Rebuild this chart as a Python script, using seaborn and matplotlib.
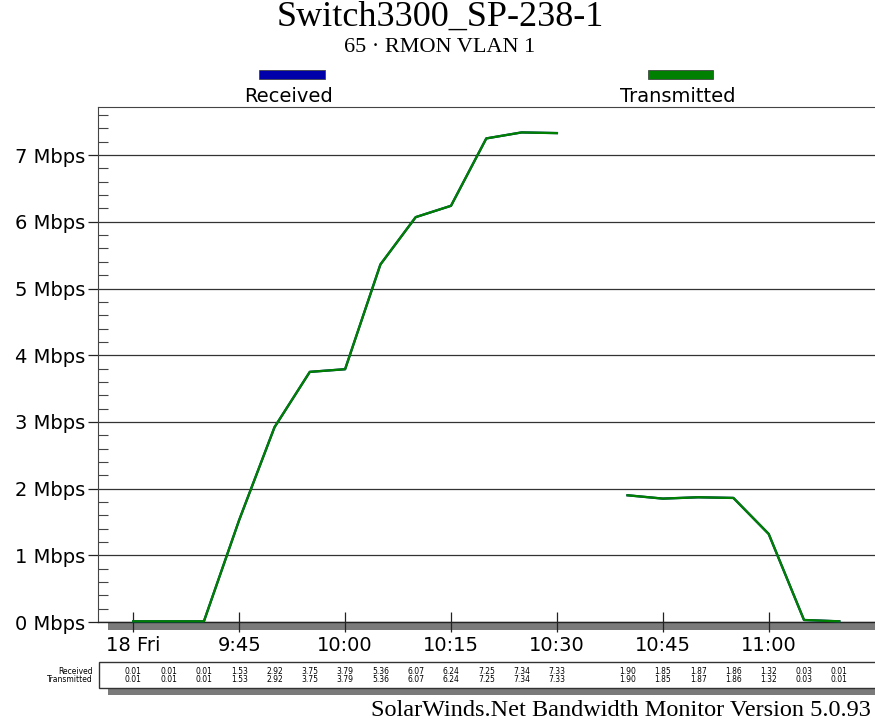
import matplotlib
matplotlib.use("Agg")
import matplotlib.pyplot as plt
from matplotlib.patches import Rectangle
from matplotlib.ticker import FixedLocator
import matplotlib.transforms as mtransforms
import seaborn as sns
import pandas as pd

# ---------------- data ----------------
title = "Switch3300_SP-238-1"
subtitle = "65 · RMON VLAN 1"
footer = "SolarWinds.Net Bandwidth Monitor Version 5.0.93"

times_a = ["9:30", "9:35", "9:40", "9:45", "9:50", "9:55", "10:00",
           "10:05", "10:10", "10:15", "10:20", "10:25", "10:30"]
received_a = [0.01, 0.01, 0.01, 1.53, 2.92, 3.75, 3.79, 5.36, 6.07, 6.24, 7.25, 7.34, 7.33]
transmitted_a = [0.01, 0.01, 0.01, 1.53, 2.92, 3.75, 3.79, 5.36, 6.07, 6.24, 7.25, 7.34, 7.33]

times_b = ["10:40", "10:45", "10:50", "10:55", "11:00", "11:05", "11:10"]
received_b = [1.90, 1.85, 1.87, 1.86, 1.32, 0.03, 0.01]
transmitted_b = [1.90, 1.85, 1.87, 1.86, 1.32, 0.03, 0.01]

xtick_times = ["9:30", "9:45", "10:00", "10:15", "10:30", "10:45", "11:00"]
xtick_labels = ["18 Fri", "9:45", "10:00", "10:15", "10:30", "10:45", "11:00"]
ytick_values = [0, 1, 2, 3, 4, 5, 6, 7]
ytick_labels = [f"{v} Mbps" for v in ytick_values]
series_names = ["Received", "Transmitted"]


def to_min(s):
    h, m = s.split(":")
    return int(h) * 60 + int(m)


df = pd.DataFrame({
    "time": [to_min(t) for t in times_a + times_b],
    "Received": received_a + received_b,
    "Transmitted": transmitted_a + transmitted_b,
    "segment": ["a"] * len(times_a) + ["b"] * len(times_b),
})

# ---------------- figure ----------------
W, H = 875, 723
fig = plt.figure(figsize=(W / 100, H / 100), dpi=100)
fig.patch.set_facecolor("white")

def fx(px):
    return px / W

def fy(py):
    return 1 - py / H

ax_left, ax_right, ax_top, ax_bot = 98, 875, 107, 622
ax = fig.add_axes([fx(ax_left), fy(ax_bot), fx(ax_right - ax_left), fy(ax_top) - fy(ax_bot)])

blue = "#0000AA"
green = "#008000"

sns.lineplot(data=df, x="time", y="Received", units="segment", estimator=None,
             color=blue, linewidth=1.6, ax=ax, legend=False)
sns.lineplot(data=df, x="time", y="Transmitted", units="segment", estimator=None,
             color=green, linewidth=1.7, ax=ax, legend=False)
for ln in ax.lines:
    ln.set_clip_on(False)
    ln.set_zorder(5)

ax.set_xlim(to_min("9:25"), to_min("9:25") + (ax_right - ax_left) / 35.3 * 5)
ax.set_ylim(0, (ax_bot - ax_top) / 66.7)
ax.set_xlabel("")
ax.set_ylabel("")

ax.set_xticks([to_min(t) for t in xtick_times])
ax.set_xticklabels(xtick_labels, fontsize=14, family="DejaVu Sans")
ax.set_yticks(ytick_values)
ax.set_yticklabels(ytick_labels, fontsize=14, family="DejaVu Sans")
minor = [v / 5 for v in range(0, 39) if v % 5 != 0]
ax.yaxis.set_minor_locator(FixedLocator(minor))

ax.tick_params(axis="x", which="major", direction="inout", length=14, width=0.9,
               color="#222222", pad=3)
ax.tick_params(axis="y", which="major", direction="out", length=7, width=0.9,
               color="#222222", pad=2)
ax.tick_params(axis="y", which="minor", direction="in", length=7, width=0.8,
               color="#444444")

ax.grid(axis="y", which="major", color="#333333", linewidth=0.9)
ax.set_axisbelow(True)
ax.spines["right"].set_visible(False)
ax.spines["top"].set_linewidth(0.8)
ax.spines["top"].set_color("#444444")
ax.spines["left"].set_color("#444444")
ax.spines["bottom"].set_color("#222222")
ax.spines["bottom"].set_linewidth(1.0)

# shadow below the x axis
fig.add_artist(Rectangle((fx(108), fy(630)), 1 - fx(108), fy(623) - fy(630),
                         transform=fig.transFigure, facecolor="#7a7a7a",
                         edgecolor="none", zorder=-1))

# ---------------- titles ----------------
fig.text(fx(440), fy(17), title, ha="center", va="center", fontsize=26,
         family="Liberation Serif")
fig.text(fx(440), fy(47), subtitle, ha="center", va="center", fontsize=16,
         family="Liberation Serif")
fig.text(fx(871), fy(711), footer, ha="right", va="center", fontsize=17.5,
         family="Liberation Serif")

# ---------------- legend ----------------
leg_items = [(series_names[0], blue, 259, 325), (series_names[1], green, 648, 713)]
for name, col, x0, x1 in leg_items:
    fig.add_artist(Rectangle((fx(x0), fy(79)), fx(x1 - x0), fy(70) - fy(79),
                             transform=fig.transFigure, facecolor=col,
                             edgecolor="#333333", linewidth=0.5))
    fig.text(fx((x0 + x1) / 2 - 3), fy(96), name, ha="center", va="center",
             fontsize=14, family="DejaVu Sans")

# ---------------- data table ----------------
fig.add_artist(Rectangle((fx(108), fy(695)), 1 - fx(108), fy(688) - fy(695),
                         transform=fig.transFigure, facecolor="#7a7a7a",
                         edgecolor="none", zorder=-1))
fig.add_artist(Rectangle((fx(99), fy(688)), 1.05 - fx(99), fy(662) - fy(688),
                         transform=fig.transFigure, facecolor="white",
                         edgecolor="#333333", linewidth=1.0, clip_on=False))
fig.text(fx(93), fy(671), series_names[0], ha="right", va="center", fontsize=5.5,
         family="DejaVu Sans")
fig.text(fx(93), fy(680), series_names[1], ha="right", va="center", fontsize=5.5,
         family="DejaVu Sans")
trans = mtransforms.blended_transform_factory(ax.transData, fig.transFigure)
for t, r, tr in zip(df["time"], df["Received"], df["Transmitted"]):
    fig.text(t, fy(671), f"{r:.2f}", transform=trans, ha="center", va="center",
             fontsize=5.5, family="DejaVu Sans")
    fig.text(t, fy(680), f"{tr:.2f}", transform=trans, ha="center", va="center",
             fontsize=5.5, family="DejaVu Sans")

fig.savefig("out.png", dpi=100, facecolor="white")
